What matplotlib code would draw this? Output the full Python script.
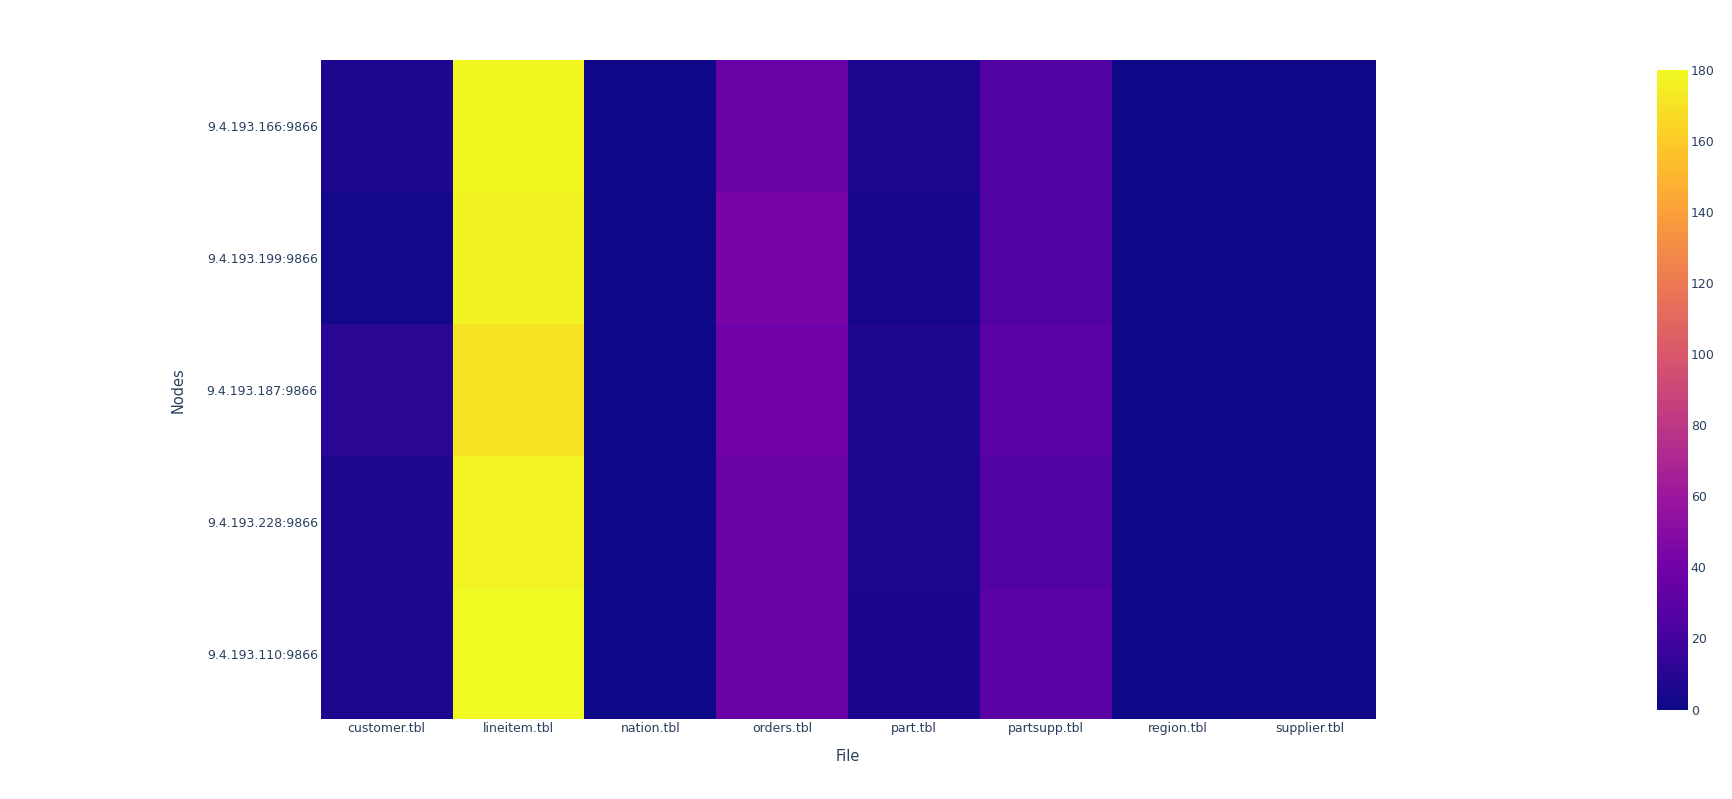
import numpy as np
import matplotlib
matplotlib.use("Agg")
import matplotlib.pyplot as plt
from matplotlib.colors import LinearSegmentedColormap

files = ["customer.tbl", "lineitem.tbl", "nation.tbl", "orders.tbl",
         "part.tbl", "partsupp.tbl", "region.tbl", "supplier.tbl"]
# bottom to top, as plotly draws categories
nodes = ["9.4.193.110:9866", "9.4.193.228:9866", "9.4.193.187:9866",
         "9.4.193.199:9866", "9.4.193.166:9866"]

n110 = [6, 180, 0.7, 36, 5, 29, 0.8, 1.5]
n228 = [7, 178, 1.0, 36, 7, 26, 1.2, 1.5]
n187 = [10, 171, 0.6, 40, 7, 29, 0.8, 1.0]
n199 = [3, 176, 1.0, 43, 4, 26, 1.2, 1.5]
n166 = [6, 178.5, 1.0, 36, 7, 26, 0.5, 1.5]
z = np.array([n110, n228, n187, n199, n166])

plasma = ["#0d0887", "#46039f", "#7201a8", "#9c179e", "#bd3786",
          "#d8576b", "#ed7953", "#fb9f3a", "#fdca26", "#f0f921"]
cmap = LinearSegmentedColormap.from_list("plotly_plasma", plasma)

txt = "#2a3f5f"
fig = plt.figure(figsize=(17.33, 7.99), dpi=100)
ax = fig.add_axes([0.185, 0.0995, 0.609, 0.8255])
mesh = ax.pcolormesh(np.arange(len(files) + 1) - 0.5, np.arange(len(nodes) + 1) - 0.5,
                     z, cmap=cmap, vmin=0, vmax=180.2)
ax.set_xticks(range(len(files)))
ax.set_xticklabels(files, fontsize=9, color=txt)
ax.set_yticks(range(len(nodes)))
ax.set_yticklabels(nodes, fontsize=9, color=txt)
ax.tick_params(length=0, pad=2)
for s in ax.spines.values():
    s.set_visible(False)
ax.set_xlabel("File", fontsize=10.5, color=txt, labelpad=10)
ax.set_ylabel("Nodes", fontsize=10.5, color=txt, labelpad=15)

cax = fig.add_axes([0.956, 0.112, 0.018, 0.801])
cb = fig.colorbar(mesh, cax=cax, ticks=range(0, 181, 20))
cb.outline.set_visible(False)
cax.tick_params(length=0, labelsize=9, labelcolor=txt, pad=2)

fig.savefig("out.png", dpi=100)
